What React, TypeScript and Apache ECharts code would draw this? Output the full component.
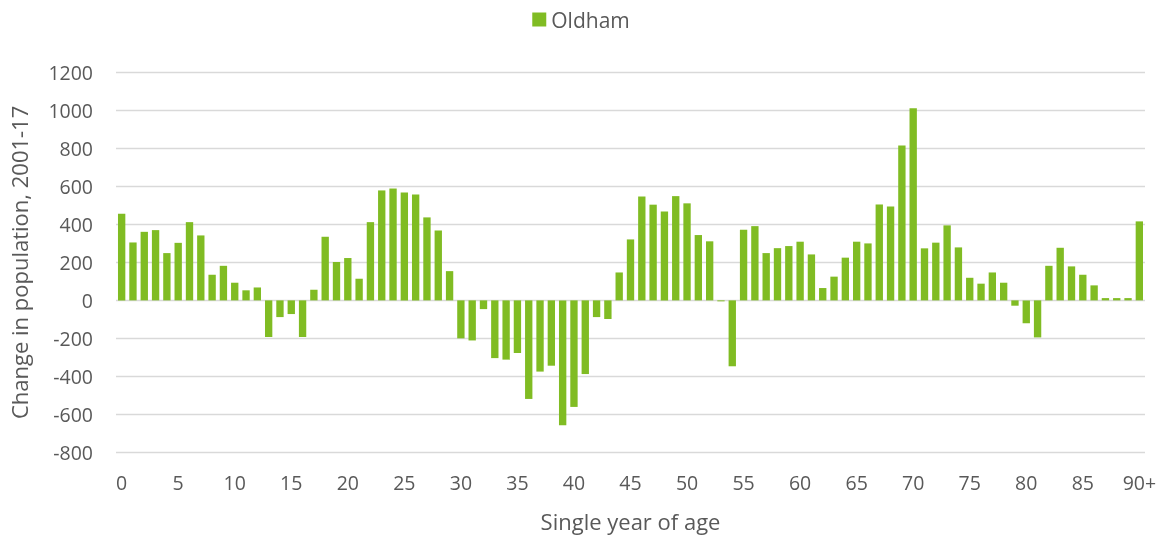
import React, { useEffect, useRef } from "react";
import * as echarts from "echarts";

const ages: string[] = [];
for (let i = 0; i < 90; i++) ages.push(String(i));
ages.push("90+");

const seriesName = "Oldham";
const values = [
  456, 305, 361, 370, 249, 303, 412, 342, 135, 182,
  93, 53, 68, -193, -88, -72, -193, 56, 335, 202,
  223, 114, 412, 579, 589, 568, 558, 437, 368, 154,
  -200, -211, -46, -304, -312, -277, -519, -375, -344, -658,
  -561, -388, -88, -98, 147, 321, 547, 504, 468, 549,
  511, 344, 311, -5, -347, 372, 391, 249, 275, 286,
  309, 242, 65, 125, 225, 309, 300, 505, 495, 816,
  1012, 274, 304, 395, 279, 119, 88, 147, 93, -28,
  -121, -195, 182, 277, 179, 135, 79, 12, 12, 12,
  416,
];

const yTitle = "Change in population, 2001-17";
const xTitle = "Single year of age";

export default function App() {
  const ref = useRef<HTMLDivElement>(null);
  useEffect(() => {
    if (!ref.current) return;
    const chart = echarts.init(ref.current, undefined, { renderer: "svg" });
    const font = "'Open Sans', 'Noto Sans', sans-serif";
    const textColor = "#595959";
    chart.setOption({
      animation: false,
      textStyle: { fontFamily: font },
      legend: {
        top: 4,
        left: "center",
        itemWidth: 14,
        itemHeight: 14,
        itemGap: 6,
        icon: "rect",
        textStyle: { fontSize: 21, color: textColor, fontFamily: font },
        data: [seriesName],
      },
      grid: { left: 116, right: 17, top: 72.5, bottom: 85.7, containLabel: false },
      xAxis: {
        type: "category",
        data: ages,
        name: xTitle,
        nameLocation: "middle",
        nameGap: 58,
        nameTextStyle: { fontSize: 22, color: textColor, fontFamily: font },
        axisLine: { show: false },
        axisTick: { show: false },
        axisLabel: { interval: 4, fontSize: 19.5, color: textColor, margin: 20, fontFamily: font },
      },
      yAxis: {
        type: "value",
        min: -800,
        max: 1200,
        interval: 200,
        name: yTitle,
        nameLocation: "middle",
        nameGap: 86,
        nameRotate: 90,
        nameTextStyle: { fontSize: 22, color: textColor, fontFamily: font },
        axisLine: { show: false },
        axisTick: { show: false },
        axisLabel: {
          fontSize: 19.5,
          color: textColor,
          margin: 23,
          fontFamily: font,
          formatter: (v: number) => String(v),
        },
        splitLine: { lineStyle: { color: "#d9d9d9", width: 1.3 } },
      },
      series: [
        {
          name: seriesName,
          type: "bar",
          data: values,
          barCategoryGap: "35%",
          itemStyle: { color: "#80BC23" },
        },
      ],
    });
    return () => chart.dispose();
  }, []);
  return (
    <div
      ref={ref}
      style={{ position: "fixed", left: 0, top: 0, width: 1162, height: 538 }}
    />
  );
}
